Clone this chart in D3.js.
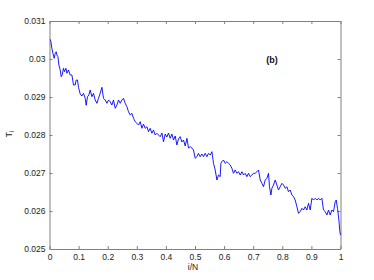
<!DOCTYPE html>
<html><head><meta charset="utf-8">
<script src="https://cdn.jsdelivr.net/npm/d3@7"></script>
<style>body{margin:0;background:#fff}svg{display:block}</style>
</head><body>
<script>
const xs = [0.0024,0.0048,0.0082,0.0117,0.0162,0.0196,0.0230,0.0254,0.0289,0.0323,0.0368,0.0402,0.0436,0.0481,0.0515,0.0564,0.0598,0.0653,0.0711,0.0770,0.0825,0.0883,0.0918,0.0962,0.0997,0.1055,0.1113,0.1168,0.1227,0.1261,0.1306,0.1354,0.1399,0.1457,0.1512,0.1570,0.1629,0.1684,0.1742,0.1801,0.1856,0.1914,0.1973,0.2027,0.2086,0.2144,0.2199,0.2258,0.2316,0.2371,0.2430,0.2488,0.2543,0.2601,0.2660,0.2715,0.2773,0.2832,0.2887,0.2945,0.3003,0.3058,0.3117,0.3175,0.3230,0.3289,0.3347,0.3402,0.3460,0.3519,0.3574,0.3632,0.3691,0.3746,0.3804,0.3863,0.3918,0.3976,0.4034,0.4089,0.4148,0.4206,0.4261,0.4320,0.4378,0.4433,0.4491,0.4550,0.4605,0.4663,0.4722,0.4777,0.4835,0.4893,0.4948,0.5007,0.5065,0.5120,0.5179,0.5237,0.5292,0.5351,0.5409,0.5464,0.5522,0.5581,0.5636,0.5694,0.5753,0.5808,0.5866,0.5890,0.5924,0.5979,0.6038,0.6096,0.6151,0.6210,0.6268,0.6323,0.6381,0.6440,0.6495,0.6553,0.6612,0.6667,0.6725,0.6784,0.6838,0.6897,0.6955,0.7010,0.7069,0.7127,0.7182,0.7241,0.7299,0.7354,0.7412,0.7471,0.7526,0.7560,0.7608,0.7643,0.7698,0.7756,0.7814,0.7869,0.7928,0.7986,0.8041,0.8100,0.8158,0.8213,0.8271,0.8330,0.8385,0.8443,0.8502,0.8557,0.8615,0.8674,0.8729,0.8787,0.8845,0.8900,0.8959,0.9017,0.9072,0.9131,0.9189,0.9244,0.9302,0.9361,0.9416,0.9474,0.9533,0.9588,0.9646,0.9704,0.9759,0.9818,0.9852,0.9897,0.9945,0.9979,1.0];
const ts = [0.030518,0.030455,0.030282,0.030150,0.030018,0.030150,0.030192,0.030105,0.030061,0.029842,0.029711,0.029534,0.029579,0.029755,0.029666,0.029755,0.029624,0.029711,0.029579,0.029579,0.029316,0.029316,0.029447,0.029447,0.029255,0.029079,0.029026,0.029097,0.028966,0.028782,0.029008,0.029053,0.029184,0.029008,0.029097,0.028921,0.028834,0.028966,0.029097,0.029255,0.028966,0.028921,0.028834,0.028921,0.028876,0.028789,0.028921,0.028703,0.028789,0.028921,0.028834,0.028921,0.028966,0.028834,0.028745,0.028613,0.028526,0.028571,0.028439,0.028350,0.028308,0.028263,0.028350,0.028176,0.028289,0.028176,0.028218,0.028087,0.028176,0.028045,0.028132,0.028000,0.028045,0.028000,0.027955,0.028053,0.027824,0.028026,0.027947,0.028053,0.027913,0.028026,0.027868,0.027974,0.027737,0.027895,0.027955,0.027816,0.027868,0.027711,0.027913,0.027658,0.027692,0.027658,0.027605,0.027387,0.027429,0.027518,0.027429,0.027500,0.027429,0.027518,0.027429,0.027518,0.027474,0.027561,0.027255,0.027079,0.026816,0.026947,0.026903,0.027255,0.027297,0.027342,0.027255,0.027297,0.027255,0.027211,0.027124,0.026992,0.027079,0.026992,0.027034,0.026947,0.027034,0.026947,0.026992,0.026903,0.026992,0.026903,0.026947,0.026992,0.026992,0.027034,0.027079,0.026816,0.026729,0.026639,0.026816,0.026861,0.026992,0.026639,0.026421,0.026597,0.026684,0.026816,0.026684,0.026553,0.026639,0.026729,0.026684,0.026597,0.026639,0.026508,0.026553,0.026421,0.026376,0.026289,0.026113,0.025939,0.025982,0.026071,0.026026,0.026113,0.026026,0.026203,0.026026,0.026334,0.026289,0.026334,0.026289,0.026334,0.026289,0.026334,0.026026,0.025982,0.025895,0.026026,0.025895,0.026026,0.025982,0.026245,0.026289,0.026071,0.025763,0.025455,0.025368];
const xTicks = [0,0.1,0.2,0.3,0.4,0.5,0.6,0.7,0.8,0.9,1];
const xTickLabels = ["0","0.1","0.2","0.3","0.4","0.5","0.6","0.7","0.8","0.9","1"];
const yTicks = [0.025,0.026,0.027,0.028,0.029,0.03,0.031];
const yTickLabels = ["0.025","0.026","0.027","0.028","0.029","0.03","0.031"];

const W = 374, H = 280;
const L = 49.5, R = 340.5, T = 21, B = 249;
const svg = d3.select("body").append("svg").attr("width", W).attr("height", H);
const x = d3.scaleLinear().domain([0,1]).range([L,R]);
const y = d3.scaleLinear().domain([0.025,0.031]).range([B,T]);
const axisCol = "#808080", font = "Liberation Sans, Arial, sans-serif";

function style(g){
  g.select(".domain").attr("stroke", axisCol);
  g.selectAll(".tick line").attr("stroke", axisCol);
  g.selectAll(".tick text").attr("fill", "#222").attr("font-size", 8.5).attr("font-family", font);
}
svg.append("g").attr("transform",`translate(0,${B})`)
  .call(d3.axisBottom(x).tickValues(xTicks).tickFormat((d,i)=>xTickLabels[i]).tickSizeInner(-3).tickSizeOuter(0).tickPadding(5))
  .call(style);
svg.append("g").attr("transform",`translate(0,${T})`)
  .call(d3.axisTop(x).tickValues(xTicks).tickFormat("").tickSizeInner(-3).tickSizeOuter(0))
  .call(style);
svg.append("g").attr("transform",`translate(${L},0)`)
  .call(d3.axisLeft(y).tickValues(yTicks).tickFormat((d,i)=>yTickLabels[i]).tickSizeInner(-3).tickSizeOuter(0).tickPadding(4))
  .call(style);
svg.append("g").attr("transform",`translate(${R},0)`)
  .call(d3.axisRight(y).tickValues(yTicks).tickFormat("").tickSizeInner(-3).tickSizeOuter(0))
  .call(style);

const data = xs.map((v,i)=>[v, ts[i]]);
svg.append("path").datum(data)
  .attr("fill","none").attr("stroke","#0000ff").attr("stroke-width",0.9)
  .attr("d", d3.line().x(d=>x(d[0])).y(d=>y(d[1])));

svg.append("text").attr("x", 272).attr("y", 63).attr("text-anchor","middle")
  .attr("font-family", font).attr("font-size", 9).attr("font-weight","bold").attr("fill","#111").text("(b)");
svg.append("text").attr("x", 193).attr("y", 270).attr("text-anchor","middle")
  .attr("font-family", font).attr("font-size", 8.5).attr("fill","#222").text("i/N");
const yl = svg.append("text").attr("transform","translate(12,134) rotate(-90)").attr("text-anchor","middle")
  .attr("font-family", font).attr("font-size", 9).attr("fill","#222");
yl.append("tspan").text("T");
yl.append("tspan").attr("font-size", 6.5).attr("dy", 2).text("i");
</script>
</body></html>
